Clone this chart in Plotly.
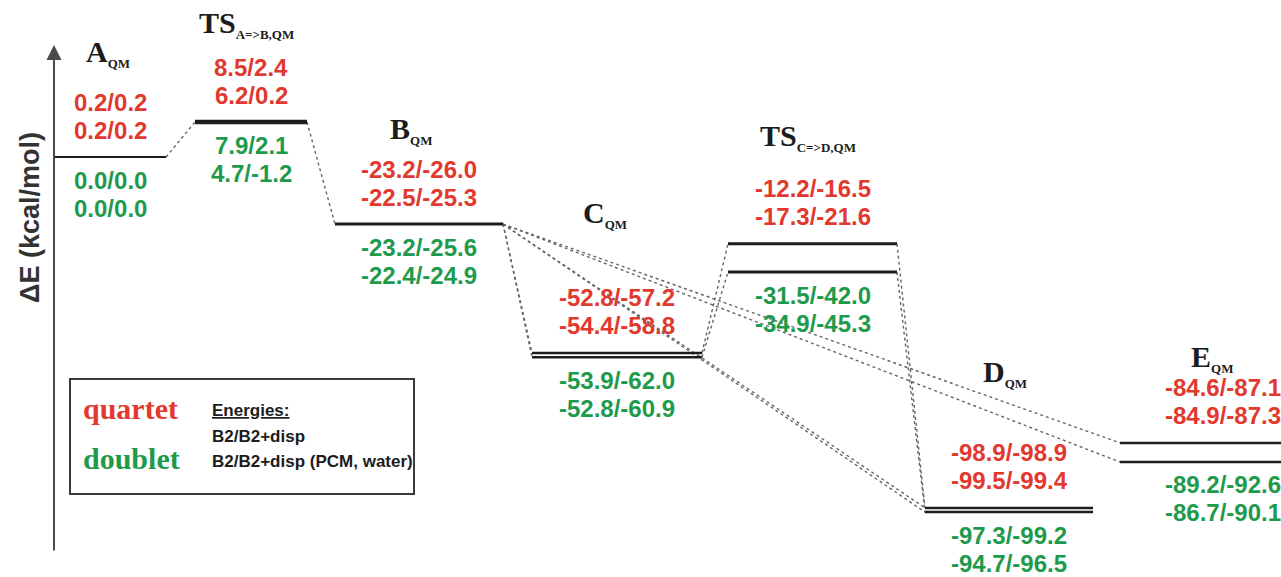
import plotly.graph_objects as go

W, H = 1281, 577

# ---- data -------------------------------------------------------------
states = ["A", "TS A=>B", "B", "C", "TS C=>D", "D", "E"]
state_titles = ["A", "TS", "B", "C", "TS", "D", "E"]
state_subs = ["QM", "A=&gt;B,QM", "QM", "QM", "C=&gt;D,QM", "QM", "QM"]

# schematic level heights of the diagram (kcal/mol, not to scale)
level_quartet = [0.0, 9.9, -19.0, -55.5, -24.6, -99.4, -81.0]
level_doublet = [0.0, 9.9, -19.0, -56.7, -32.6, -100.6, -86.4]

# quartet energies: B2 / B2+disp and B2 / B2+disp (PCM, water)
quartet_b2 = [0.2, 8.5, -23.2, -52.8, -12.2, -98.9, -84.6]
quartet_b2_disp = [0.2, 2.4, -26.0, -57.2, -16.5, -98.9, -87.1]
quartet_pcm_b2 = [0.2, 6.2, -22.5, -54.4, -17.3, -99.5, -84.9]
quartet_pcm_b2_disp = [0.2, 0.2, -25.3, -58.8, -21.6, -99.4, -87.3]

# doublet energies: B2 / B2+disp and B2 / B2+disp (PCM, water)
doublet_b2 = [0.0, 7.9, -23.2, -53.9, -31.5, -97.3, -89.2]
doublet_b2_disp = [0.0, 2.1, -25.6, -62.0, -42.0, -99.2, -92.6]
doublet_pcm_b2 = [0.0, 4.7, -22.4, -52.8, -34.9, -94.7, -86.7]
doublet_pcm_b2_disp = [0.0, -1.2, -24.9, -60.9, -45.3, -96.5, -90.1]

# pathways drawn as dotted connectors (from state, to state)
connections = [(0, 1), (1, 2), (2, 3), (2, 5), (2, 6), (3, 4), (4, 5)]

# ---- layout helpers ----------------------------------------------------
slot_left = [54, 195, 335, 532, 728, 925, 1120]
slot_right = [166, 307, 503, 702, 897, 1093, 1326]
level_width = [2, 4.5, 3, 2.5, 3, 2.5, 2.5]
name_pos = [(108, 53), (246, 24), (411, 130), (605, 214), (808, 137), (1005, 373), (1212, 358)]

Y0_PX, PX_PER_KCAL = 157, 3.53
y_top = Y0_PX / PX_PER_KCAL
y_bot = -(H - Y0_PX) / PX_PER_KCAL

RED = "#e2382e"
GREEN = "#1e9a4c"
INK = "#1c1c1c"
SANS = "Liberation Sans, Arial, sans-serif"
SERIF = "Liberation Serif, Times New Roman, serif"


def px_to_kcal(py):
    return (Y0_PX - py) / PX_PER_KCAL


def fmt(a, b):
    return f"{a:.1f}/{b:.1f}"


fig = go.Figure()

# dotted connectors between levels
for i, j in connections:
    pairs = {(level_quartet[i], level_quartet[j]), (level_doublet[i], level_doublet[j])}
    for ya, yb in pairs:
        fig.add_trace(go.Scatter(
            x=[slot_right[i], slot_left[j]], y=[ya, yb], mode="lines",
            line=dict(color="#666666", width=1.4, dash="dot"),
            hoverinfo="skip", showlegend=False,
        ))

# energy levels
for i in range(len(states)):
    ys = sorted({level_quartet[i], level_doublet[i]})
    for y in ys:
        fig.add_trace(go.Scatter(
            x=[slot_left[i], slot_right[i]], y=[y, y], mode="lines",
            line=dict(color=INK, width=level_width[i]),
            hoverinfo="skip", showlegend=False,
        ))

ann = []
for i in range(len(states)):
    cx = (slot_left[i] + slot_right[i]) / 2
    for txt, ys in ((fmt(quartet_b2[i], quartet_b2_disp[i]), 55),
                    (fmt(quartet_pcm_b2[i], quartet_pcm_b2_disp[i]), 27)):
        ann.append(dict(x=cx, y=level_quartet[i], yshift=ys, text=txt, showarrow=False,
                        font=dict(family=SANS, size=24, color=RED, weight="bold")))
    for txt, ys in ((fmt(doublet_b2[i], doublet_b2_disp[i]), -23),
                    (fmt(doublet_pcm_b2[i], doublet_pcm_b2_disp[i]), -51)):
        ann.append(dict(x=cx, y=level_doublet[i], yshift=ys, text=txt, showarrow=False,
                        font=dict(family=SANS, size=24, color=GREEN, weight="bold")))
    nx, ny = name_pos[i]
    ann.append(dict(
        x=nx, y=px_to_kcal(ny), showarrow=False,
        text=f"<b>{state_titles[i]}<sub><span style='font-size:13px'>{state_subs[i]}</span></sub></b>",
        font=dict(family=SERIF, size=30, color=INK),
    ))

# energy axis arrow and title
ann.append(dict(x=54, y=px_to_kcal(45), ax=54, ay=px_to_kcal(552), xref="x", yref="y",
                axref="x", ayref="y", showarrow=True, arrowhead=2, arrowsize=1.5,
                arrowwidth=2, arrowcolor="#4a4a4a", text=""))
ann.append(dict(x=30, y=px_to_kcal(218), text="<b>ΔE (kcal/mol)</b>", textangle=-90,
                showarrow=False, font=dict(family=SANS, size=27, color="#333333")))

# legend box
ann += [
    dict(x=81, y=px_to_kcal(408), xanchor="left", text="<b>quartet</b>", showarrow=False,
         font=dict(family=SERIF, size=30, color=RED)),
    dict(x=81, y=px_to_kcal(458), xanchor="left", text="<b>doublet</b>", showarrow=False,
         font=dict(family=SERIF, size=30, color=GREEN)),
    dict(x=210, y=px_to_kcal(410), xanchor="left", text="<u>Energies:</u>", showarrow=False,
         font=dict(family=SANS, size=17, color=INK, weight="bold")),
    dict(x=210, y=px_to_kcal(436), xanchor="left", text="B2/B2+disp", showarrow=False,
         font=dict(family=SANS, size=17, color=INK, weight="bold")),
    dict(x=210, y=px_to_kcal(461), xanchor="left", text="B2/B2+disp (PCM, water)", showarrow=False,
         font=dict(family=SANS, size=17, color=INK, weight="bold")),
]

fig.add_shape(type="rect", xref="x", yref="y", x0=70, x1=414,
              y0=px_to_kcal(379), y1=px_to_kcal(494),
              line=dict(color="#3a3a3a", width=2), fillcolor="rgba(0,0,0,0)", layer="above")

fig.update_layout(
    width=W, height=H, margin=dict(l=0, r=0, t=0, b=0),
    paper_bgcolor="white", plot_bgcolor="white",
    xaxis=dict(range=[0, W], visible=False, fixedrange=True),
    yaxis=dict(range=[y_bot, y_top], visible=False, fixedrange=True),
    annotations=ann, showlegend=False,
)

fig.write_html("out.html")
